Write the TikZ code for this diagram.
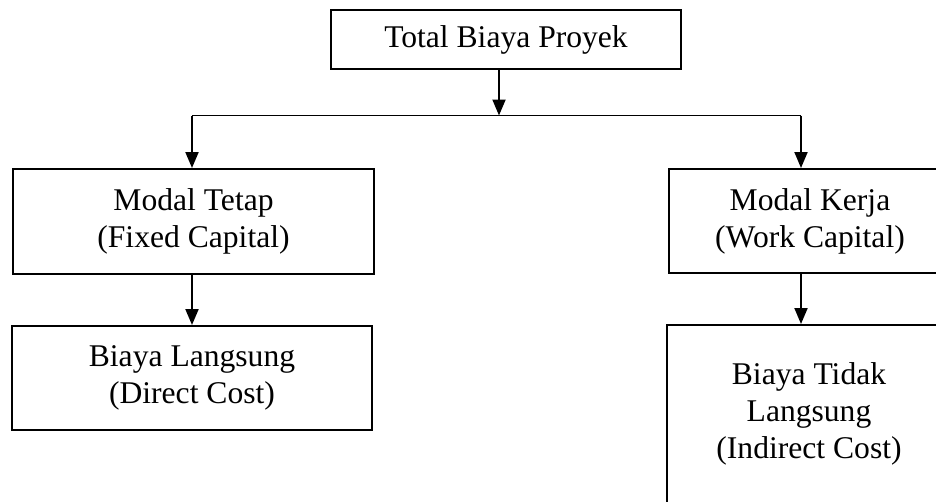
\documentclass[tikz,border=0pt]{standalone}
\usepackage{fontspec}
\setmainfont{Liberation Serif}
\usetikzlibrary{arrows.meta}
\tikzset{
  boxnode/.style={draw, line width=2pt, inner sep=0pt, align=center,
    font=\fontsize{31.6}{37}\selectfont},
  arr/.style={line width=2pt, -{Triangle[length=16pt,width=13pt]}},
  hline/.style={line width=1pt}
}
\begin{document}
\begin{tikzpicture}[x=1pt,y=-1pt]
\useasboundingbox (0,0) rectangle (936,501);
\clip (0,0) rectangle (936,501);
\node[boxnode, minimum width=350pt, minimum height=59pt] (top) at (506,39.5) {Total Biaya Proyek};
\node[boxnode, minimum width=361pt, minimum height=105pt] (mt) at (193.5,221.5) {Modal Tetap\\(Fixed Capital)};
\node[boxnode, minimum width=360pt, minimum height=104pt] (bl) at (192,378) {Biaya Langsung\\(Direct Cost)};
\node[boxnode, minimum width=282pt, minimum height=104pt] (mk) at (810,221) {Modal Kerja\\(Work Capital)};
\node[boxnode, minimum width=284pt, minimum height=178pt] (bt) at (809,414) {Biaya Tidak\\Langsung\\(Indirect Cost)};
\coordinate (hl) at (192,115.5);
\coordinate (hr) at (801,115.5);
\coordinate (hm) at (499,115.5);
\draw[hline] (hl) -- (hr);
\draw[arr] (hm |- top.south) -- (hm);
\draw[arr] (hl) -- (hl |- mt.north);
\draw[arr] (hr) -- (hr |- mk.north);
\draw[arr] (mt.south -| hl) -- (bl.north -| hl);
\draw[arr] (mk.south -| hr) -- (bt.north -| hr);
\end{tikzpicture}
\end{document}
